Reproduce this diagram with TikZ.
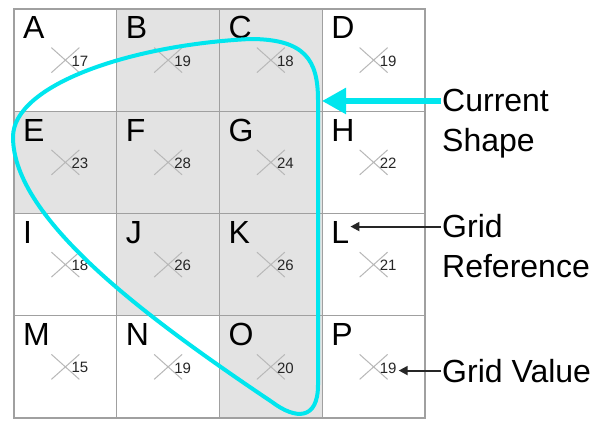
\documentclass[tikz,border=0pt]{standalone}
\usepackage{fontspec}
\setmainfont{Liberation Sans}
\usetikzlibrary{arrows.meta}
\definecolor{cellgray}{HTML}{E3E3E3}
\definecolor{gridline}{HTML}{A0A0A0}
\definecolor{xgray}{HTML}{B8B8B8}
\definecolor{shapecyan}{HTML}{00E6EE}
\definecolor{valtext}{HTML}{262626}
\begin{document}
\begin{tikzpicture}[x=1pt,y=-1pt,
  cell/.style={draw=gridline, line width=1.3pt, minimum width=102.75pt, minimum height=102.25pt, inner sep=0pt, outer sep=0pt, anchor=north west},
  letter/.style={inner sep=0pt, font=\fontsize{32}{38}\selectfont, text=black},
  val/.style={inner sep=0pt, font=\fontsize{15}{18}\selectfont, text=valtext},
  xline/.style={draw=xgray, line width=1pt},
  legend/.style={inner sep=0pt, font=\fontsize{32}{38}\selectfont, text=black},
  shapeline/.style={draw=shapecyan, line width=4pt, line join=round},
  cyanarrow/.style={draw=shapecyan, line width=5.5pt, -{Triangle[length=24pt,width=25pt]}},
  blackarrow/.style={draw=black!85, line width=2pt, -{Triangle[length=9pt,width=9pt]}}]
\useasboundingbox[fill=white] (0,0) rectangle (600,422);
\foreach \n/\c/\r/\v/\f in {A/0/0/17/white, B/1/0/19/cellgray, C/2/0/18/cellgray, D/3/0/19/white,
  E/0/1/23/cellgray, F/1/1/28/cellgray, G/2/1/24/cellgray, H/3/1/22/white,
  I/0/2/18/white, J/1/2/26/cellgray, K/2/2/26/cellgray, L/3/2/21/white,
  M/0/3/15/white, N/1/3/19/white, O/2/3/20/cellgray, P/3/3/19/white} {
  \node[cell, fill=\f] (\n) at ({14+\c*102.75},{9+\r*102.25}) {};
  \draw[xline, shift={(\n.center)}] (-14,-12.5) -- (14,12.5) (-14,12.5) -- (14,-12.5);
  \node[val, anchor=west] (\n-v) at ([shift={(6,1)}]\n.center) {\v};
  \node[letter, anchor=base west] (\n-l) at ([shift={(9,30)}]\n.north west) {\n};
}
% current shape
\draw[shapeline] (318,100) -- (318,385)
  .. controls (318,420) and (296,420) .. (272,402)
  .. controls (150,320) and (13,220) .. (13,137)
  .. controls (13,85) and (130,45) .. (250,39)
  .. controls (305,39) and (318,60) .. (318,100) -- cycle;
\coordinate (cstip) at (322,100);
% legend
\node[legend, anchor=base west] (cs1) at (442,112) {Current};
\node[legend, anchor=base west] (cs2) at (442,152) {Shape};
\node[legend, anchor=base west] (gr1) at (442,238) {Grid};
\node[legend, anchor=base west] (gr2) at (442,278) {Reference};
\node[legend, anchor=base west] (gv) at (442,382) {Grid Value};
\draw[cyanarrow] ([xshift=-1pt]cs1.west) -- (cs1.west -| cstip);
\draw[blackarrow] ([xshift=-1pt]gr1.west) -- ([xshift=1pt]gr1.west -| L-l.east);
\draw[blackarrow] ([xshift=-1pt]gv.west) -- ([xshift=2pt]gv.west -| P-v.east);
\end{tikzpicture}
\end{document}
